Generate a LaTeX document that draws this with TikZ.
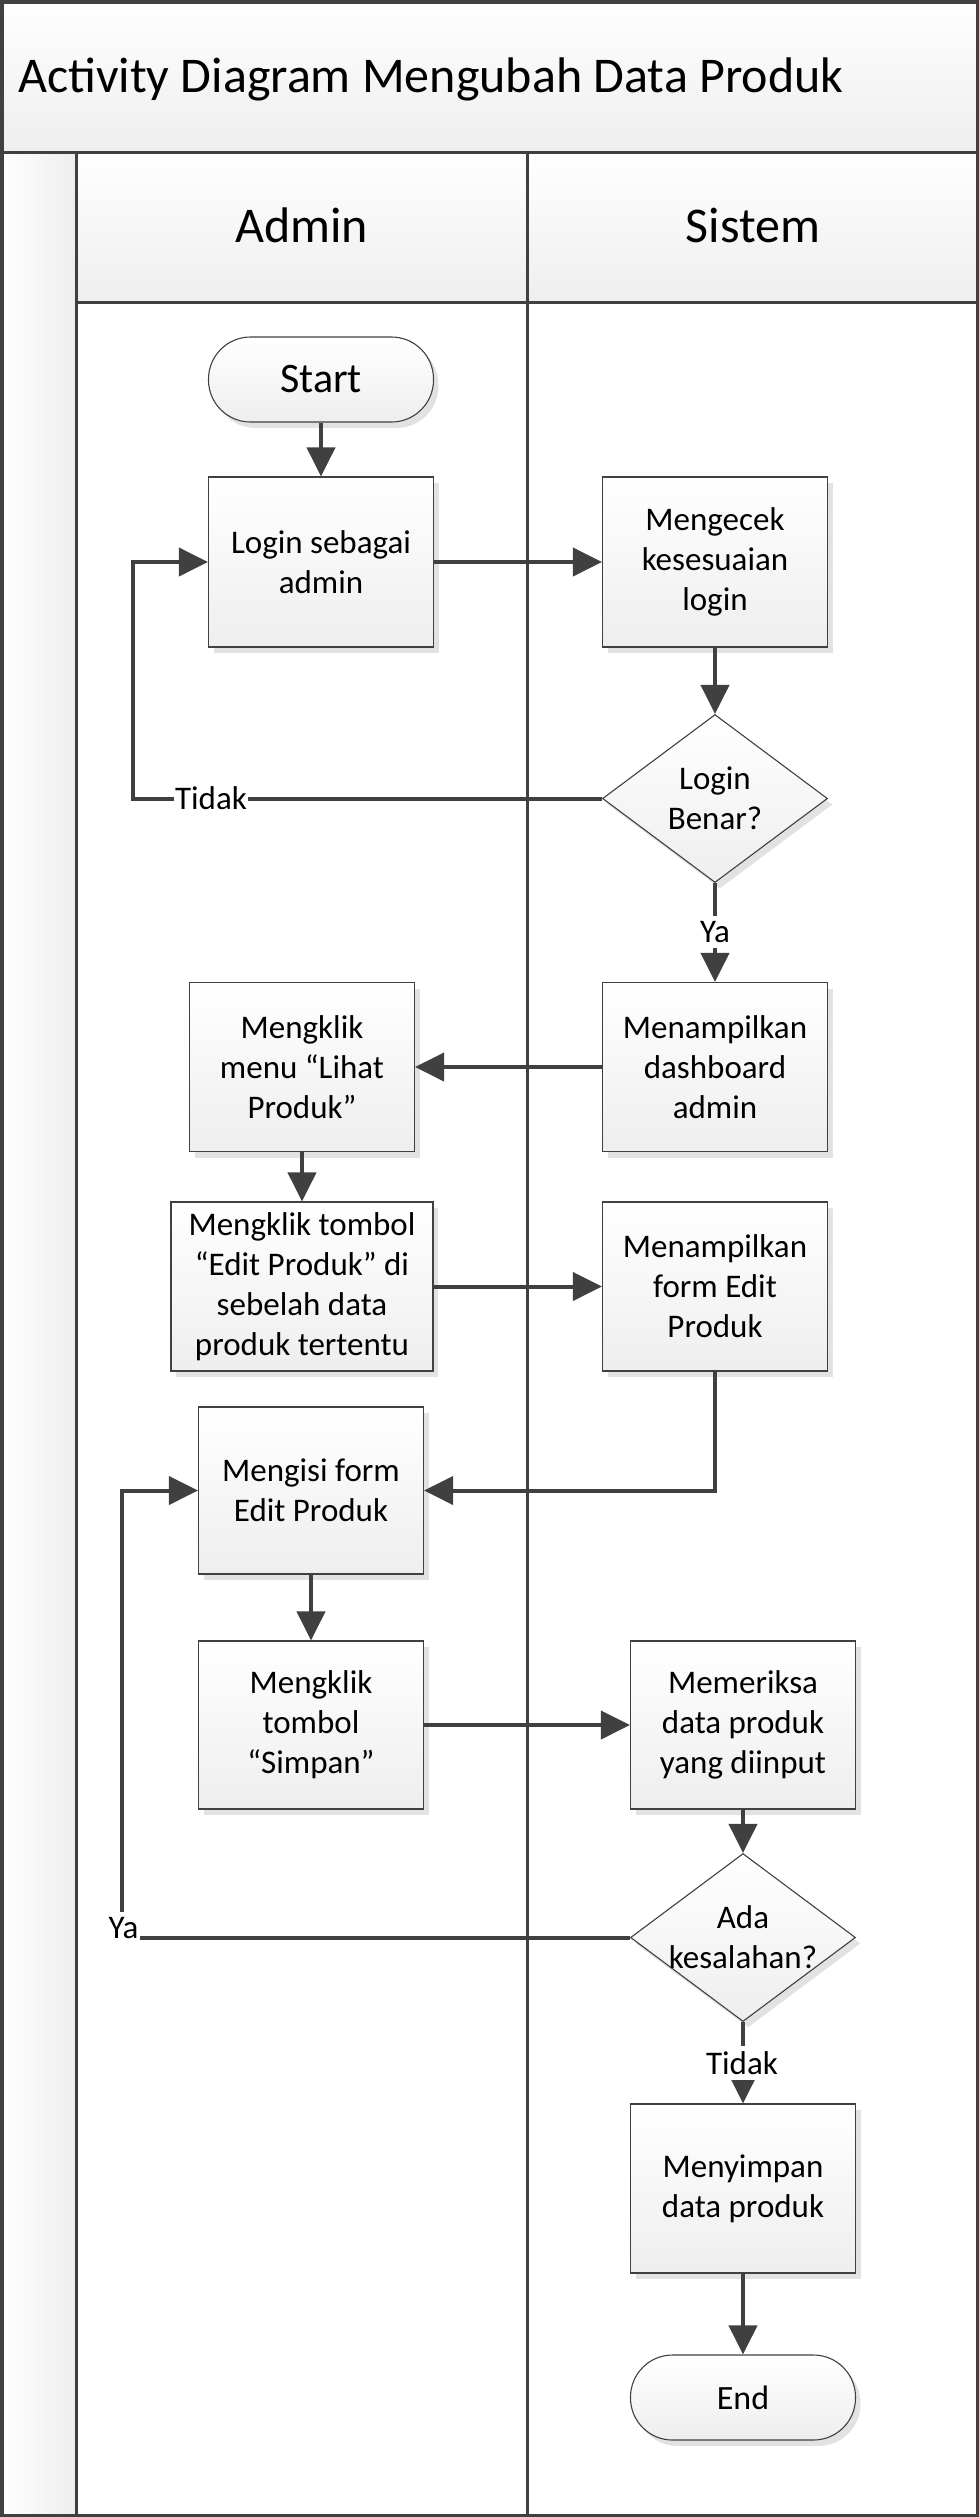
\documentclass[tikz,border=0pt]{standalone}
\usepackage{fontspec}
\setmainfont{Carlito}
\usetikzlibrary{arrows.meta,shapes.geometric,shadows,calc}
\definecolor{linecol}{RGB}{64,64,64}
\definecolor{shadowcol}{RGB}{226,226,226}
\definecolor{fillbot}{RGB}{238,238,238}
\newcommand{\zl}[1]{\makebox[0pt]{#1}}
\begin{document}
\begin{tikzpicture}[x=1pt,y=-1pt,
  laneline/.style={draw=linecol,line width=3pt},
  act/.style={rectangle,draw=linecol,line width=1.1pt,top color=white,bottom color=fillbot,
     drop shadow={shadow xshift=5pt,shadow yshift=-6pt,fill=shadowcol,opacity=1},
     minimum width=225pt,minimum height=169pt,inner sep=2pt,align=center,
     font=\fontsize{33}{40}\selectfont},
  decision/.style={act,diamond,minimum width=225pt,minimum height=168pt,inner sep=0pt,aspect=1.34},
  terminal/.style={act,rounded corners=42pt,minimum height=85pt},
  flow/.style={draw=linecol,line width=4pt,-{Triangle[length=29pt,width=28pt]}},
  lbl/.style={fill=white,inner xsep=1.5pt,inner ysep=5.5pt,font=\fontsize{33}{40}\selectfont},
  big/.style={font=\fontsize{50}{60}\selectfont,inner sep=0pt}
]
\useasboundingbox (0,0) rectangle (979,2517);
% backgrounds
\shade[top color=white,bottom color=fillbot] (0,0) rectangle (979,152);
\shade[top color=white,bottom color=fillbot] (76,152) rectangle (979,302);
\shade[left color=white,right color=fillbot] (0,152) rectangle (76,2517);
% title and lane names
\node[big,anchor=base west] (title) at (18,92) {Activity Diagram Mengubah Data Produk};
\node[big,anchor=base] (admin) at (301.5,242) {Admin};
\node[big,anchor=base] (sistem) at (753,242) {Sistem};
% lane lines
\draw[laneline] (0,152) -- (979,152);
\draw[laneline] (76,152) -- (76,2517);
\draw[laneline] (76,302) -- (979,302);
\draw[laneline] (527,152) -- (527,2517);
\draw[draw=linecol,line width=3.5pt] (1.75,1.75) rectangle (977.25,2515.25);
% activities
\node[terminal,font=\fontsize{42}{50}\selectfont] (start) at (321,379.5) {Start};
\node[act,minimum height=170pt] (login) at (321,562) {Login sebagai\\admin};
\node[act,minimum height=170pt] (cek) at (715,562) {Mengecek\\kesesuaian\\login};
\node[decision] (d1) at (715,798.5) {\zl{Login}\\\zl{Benar?}};
\node[act] (dash) at (715,1067) {Menampilkan\\dashboard\\admin};
\node[act] (lihat) at (302,1067) {Mengklik\\menu “Lihat\\Produk”};
\node[act,minimum width=262pt] (edit) at (302,1286.5) {Mengklik tombol\\“Edit Produk” di\\sebelah data\\produk tertentu};
\node[act] (form) at (715,1286.5) {Menampilkan\\form Edit\\Produk};
\node[act,minimum height=167pt] (isi) at (311,1490.5) {Mengisi form\\Edit Produk};
\node[act,minimum height=168pt] (simpan) at (311,1725) {Mengklik\\tombol\\“Simpan”};
\node[act,minimum height=168pt] (periksa) at (743,1725) {Memeriksa\\data produk\\yang diinput};
\node[decision] (d2) at (743,1937.5) {\zl{Ada}\\\zl{kesalahan?}};
\node[act] (simpan2) at (743,2188.5) {Menyimpan\\data produk};
\node[terminal,font=\fontsize{34}{40}\selectfont] (end) at (743,2397.5) {End};
% connectors
\coordinate (t1) at (133,798.5);
\coordinate (y2) at (122,1937.5);
\draw[flow] (start) -- (login);
\draw[flow] (login) -- (cek);
\draw[flow] (cek) -- (d1);
\draw[flow] (d1.west) -- (t1) |- (login.west);
\draw[flow] (d1) -- (dash);
\draw[flow] (dash) -- (lihat);
\draw[flow] (lihat) -- (edit);
\draw[flow] (edit) -- (form);
\draw[flow] (form.south) |- (isi.east);
\draw[flow] (isi) -- (simpan);
\draw[flow] (simpan) -- (periksa);
\draw[flow] (periksa) -- (d2);
\draw[flow] (d2.west) -- (y2) |- (isi.west);
\draw[flow] (d2) -- (simpan2);
\draw[flow] (simpan2) -- (end);
% labels
\node[lbl] (ya1) at (715,932) {Ya};
\node[lbl] (tidak1) at (211,798.5) {Tidak};
\node[lbl] (ya2) at (123.5,1928.5) {Ya};
\node[lbl] (tidak2) at (742,2063) {Tidak};
\end{tikzpicture}
\end{document}
